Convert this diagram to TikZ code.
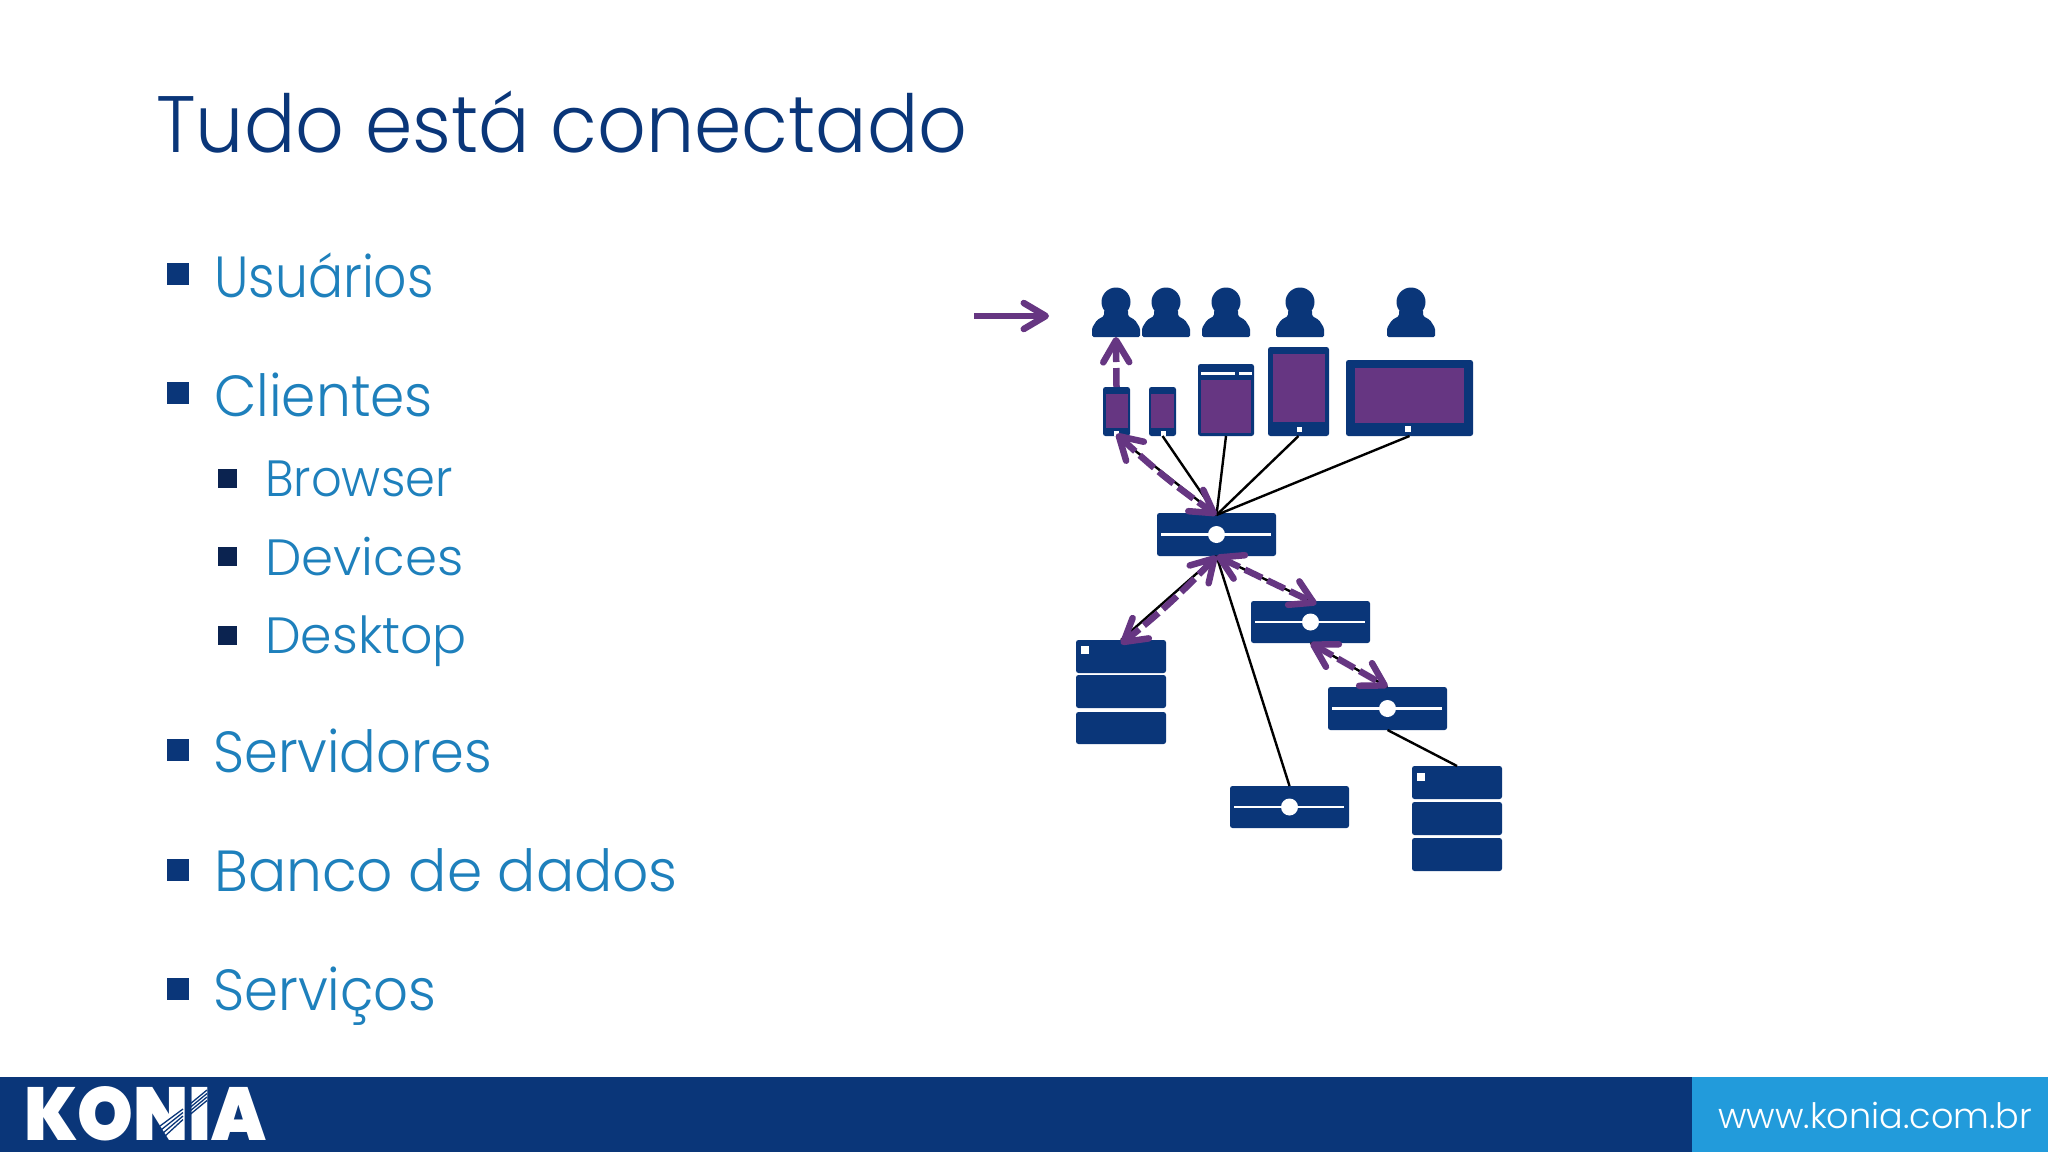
\documentclass[tikz,border=0pt]{standalone}
\usepackage{fontspec}
\usepackage{graphicx}
\setmainfont{Poppins Light}
\newfontfamily\logofont{Poppins Black}
\usetikzlibrary{arrows.meta}
\definecolor{navy}{HTML}{0A3679}
\definecolor{sky}{HTML}{229BDB}
\definecolor{txtblue}{HTML}{1E80BC}
\definecolor{subsq}{HTML}{0B2350}
\definecolor{purp}{HTML}{663682}
\newcommand{\devnode}[6]{%
  \pgfmathsetmacro{\boxw}{#4-#2}\pgfmathsetmacro{\boxh}{#5-#3}%
  \pgfmathsetmacro{\boxx}{(#2+#4)/2}\pgfmathsetmacro{\boxy}{(#3+#5)/2}%
  \node[#6,minimum width=\boxw pt,minimum height=\boxh pt] (#1) at (\boxx,\boxy) {};}
\newcommand{\srv}[5]{% name x1 y1 x2 y2
  \devnode{#1}{#2}{#3}{#4}{#5}{navybox}
  \draw[white,line width=2.5pt] ([xshift=4pt]#1.west) -- ([xshift=-5pt]#1.east);
  \fill[white] (#1.center) circle (8.5pt);}
\newcommand{\wide}[2]{\scalebox{#1}[1]{#2}}
\tikzset{
  navybox/.style={fill=navy,rounded corners=2.5pt,inner sep=0pt,outer sep=0pt},
  whitedot/.style={fill=white,inner sep=0pt,outer sep=0pt,minimum size=5pt},
  blackline/.style={black,line width=2.4pt},
  parrow/.style={purp,line width=6.5pt,line cap=butt},
  pdash/.style={parrow,dash pattern=on 19pt off 6pt},
  lvlone/.style={anchor=base west,inner sep=0pt,text=txtblue,font=\fontsize{58}{58}\selectfont},
  lvltwo/.style={anchor=base west,inner sep=0pt,text=txtblue,font=\fontsize{51}{51}\selectfont},
  sqone/.style={fill=navy,inner sep=0pt,minimum size=22pt},
  sqtwo/.style={fill=subsq,inner sep=0pt,minimum size=19pt},
  usernode/.style={inner sep=0pt,outer sep=0pt,minimum width=48pt,minimum height=48pt},
  barb/.tip={Straight Barb[length=22pt,width=26pt,line width=6.5pt,round]},
}
\begin{document}
\begin{tikzpicture}[x=1pt,y=-1pt]
\useasboundingbox (0,0) rectangle (2048,1152);
\fill[white] (0,0) rectangle (2048,1152);
% footer
\node[fill=navy,inner sep=0pt,minimum width=1692pt,minimum height=75pt] (footL) at (846,1114.5) {};
\node[fill=sky,inner sep=0pt,minimum width=356pt,minimum height=75pt] (footR) at (1870,1114.5) {};
\node[anchor=base west,inner sep=0pt,text=white,font=\fontsize{35}{35}\selectfont] (url) at (1718,1128) {www.konia.com.br};
\node[anchor=south west,inner sep=0pt,text=white] (logo) at (24,1141) {\resizebox{242pt}{54pt}{\logofont KONIA}};
\foreach \i in {0,1,2,3}{
  \draw[navy,line width=1.3pt] (160+\i*1.5,1126+\i*3.5) -- (183,1109+\i*3.5);
  \draw[navy,line width=1.3pt] (190,1104+\i*3.5) -- (207,1090+\i*3.5);
}
% title
\node[anchor=base west,inner sep=0pt,text=navy,font=\fontsize{80}{80}\selectfont] (title) at (156,152) {\wide{.952}{Tudo está conectado}};
% list
\node[sqone] (b1) at (178,274) {};
\node[lvlone] (t1) at (214,297) {\wide{.897}{Usuários}};
\node[sqone] (b2) at (178,393) {};
\node[lvlone] (t2) at (214,416) {\wide{.95}{Clientes}};
\node[sqtwo] (b3) at (227,478) {};
\node[lvltwo] (t3) at (265,496) {\wide{.94}{Browser}};
\node[sqtwo] (b4) at (227,556) {};
\node[lvltwo] (t4) at (265,575) {\wide{1.01}{Devices}};
\node[sqtwo] (b5) at (227,635) {};
\node[lvltwo] (t5) at (265,653) {\wide{.99}{Desktop}};
\node[sqone] (b6) at (178,750) {};
\node[lvlone] (t6) at (213,772) {\wide{.936}{Servidores}};
\node[sqone] (b7) at (178,870) {};
\node[lvlone] (t7) at (214,891) {\wide{.977}{Banco de dados}};
\node[sqone] (b8) at (178,989) {};
\node[lvlone] (t8) at (213,1010) {\wide{.94}{Serviços}};
% users
\foreach \n/\ux in {user1/1116,user2/1166,user3/1226,user4/1300,user5/1411}{
  \node[usernode] (\n) at (\ux,313) {};
  \fill[navy] (\n.center) ++(0,-11) circle (14.5pt);
  \fill[navy,rounded corners=1.5pt] (\n.south west) -- ++(0,-9) -- ++(5,-8) -- ++(7,-4) -- ++(0,-6) -- ++(24,0) -- ++(0,6) -- ++(7,4) -- ++(5,8) -- (\n.south east) -- cycle;
}
% devices
\devnode{phone1}{1103}{387}{1130}{436}{navybox}
\fill[purp] (1106,394) rectangle (1128,428);
\node[whitedot] (d1) at (1116,433) {};
\devnode{phone2}{1149}{387}{1176}{436}{navybox}
\fill[purp] (1151,394) rectangle (1174,428);
\node[whitedot] (d2) at (1163,433) {};
\devnode{browser}{1198}{364}{1254}{436}{navybox}
\fill[purp] (1201,380) rectangle (1251,433);
\fill[white] (1201,372) rectangle (1235,375);
\fill[white] (1239,372) rectangle (1252,375);
\devnode{tablet}{1268}{347}{1329}{436}{navybox}
\fill[purp] (1273,354) rectangle (1325,422);
\node[whitedot] (d3) at (1299,429) {};
\devnode{monitor}{1346}{360}{1473}{436}{navybox}
\fill[purp] (1355,368) rectangle (1464,423);
\node[whitedot,minimum size=6pt] (d4) at (1408,429) {};
% servers
\srv{hub}{1157}{513}{1276}{556}
\srv{srvb}{1251}{601}{1370}{643}
\srv{srvc}{1328}{687}{1447}{730}
\srv{srvd}{1230}{786}{1349}{828}
% databases
\devnode{dbatop}{1076}{640}{1166}{673}{navybox}
\devnode{dbamid}{1076}{675}{1166}{708}{navybox}
\devnode{dbabot}{1076}{712}{1166}{744}{navybox}
\node[whitedot,minimum size=8pt] (da) at (1085,650) {};
\devnode{dbbtop}{1412}{766}{1502}{799}{navybox}
\devnode{dbbmid}{1412}{802}{1502}{835}{navybox}
\devnode{dbbbot}{1412}{838}{1502}{871}{navybox}
\node[whitedot,minimum size=8pt] (db) at (1421,777) {};
% black connectors
\coordinate (hubtop) at ([yshift=-2pt]hub.north);
\draw[blackline] (phone1.south) -- (hubtop);
\draw[blackline] (phone2.south) -- (hubtop);
\draw[blackline] (browser.south) -- (hubtop);
\draw[blackline] (tablet.south) -- (hubtop);
\draw[blackline] (monitor.south) -- (hubtop);
\draw[blackline] (hub.south) -- (dbatop.north);
\draw[blackline] (hub.south) -- (srvb.north);
\draw[blackline] (srvb.south) -- (srvc.north);
\draw[blackline] (hub.south) -- (srvd.north);
\draw[blackline] (srvc.south) -- (dbbtop.north);
% purple arrows
\coordinate (arrowstart) at (974,316);
\coordinate (arrowend) at (1049,316);
\draw[parrow,-barb] (arrowstart) -- (arrowend);
\draw[pdash,-barb] (phone1.north) -- (user1.south);
\draw[pdash,barb-barb] ([yshift=2pt]phone1.south) to[bend right=4] (hubtop);
\draw[pdash,barb-barb] (hub.south) to[bend left=4] ([yshift=-4pt]dbatop.north);
\draw[pdash,barb-barb] (hub.south) -- ([xshift=6pt,yshift=-3pt]srvb.north);
\draw[pdash,barb-barb] (srvb.south) -- (srvc.north);
\end{tikzpicture}
\end{document}
